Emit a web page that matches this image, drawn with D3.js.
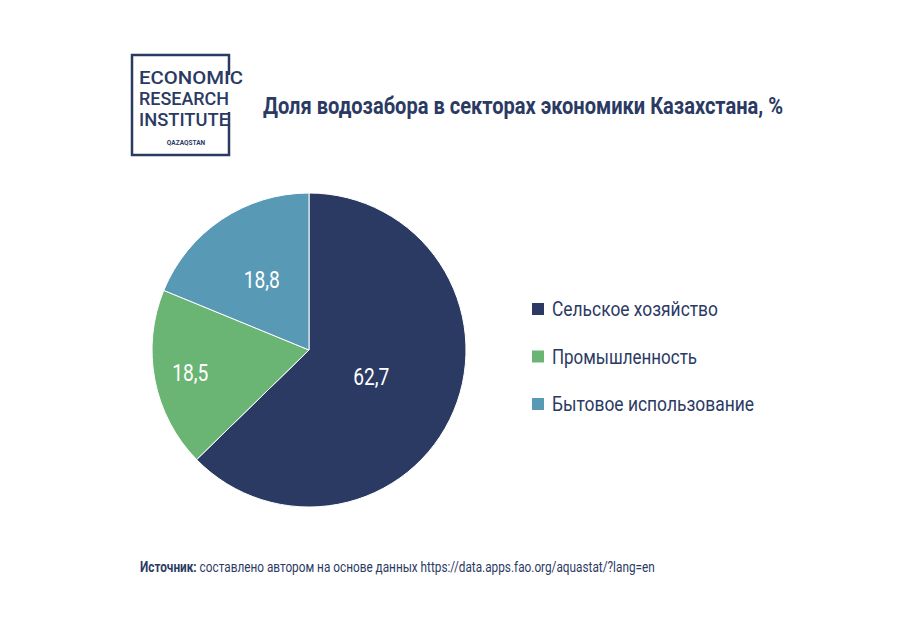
<!DOCTYPE html><html><head><meta charset="utf-8">
<script src="https://cdn.jsdelivr.net/npm/d3@7"></script>
<style>body{margin:0;background:#fff}text{font-family:"Roboto",sans-serif}</style></head><body>
<svg id="c" width="924" height="618"></svg>
<script>
const categories=["Сельское  хозяйство","Промышленность","Бытовое  использование"];
const values=[62.7,18.5,18.8];
const labels=["62,7","18,5","18,8"];
const colors=["#2b3a63","#6ab574","#5899b6"];
const labelR=[0.43,0.77,0.54];
const legendW=[166,145,202];
const svg=d3.select("#c");
const navy="#2b3a63";
const lg=svg.append("g");
lg.append("path").attr("d","M229,75 V55 H132 V155 H229 V112").attr("fill","none").attr("stroke",navy).attr("stroke-width",2.5);
["ECONOMIC","RESEARCH","INSTITUTE"].forEach((t,i)=>lg.append("text").attr("x",139).attr("y",84+i*21).text(t)
 .attr("font-size",19).attr("fill",navy).attr("font-weight",500).attr("textLength",[104,90,90][i]).attr("lengthAdjust","spacingAndGlyphs"));
lg.append("text").attr("x",186).attr("y",145).attr("text-anchor","middle").attr("font-size",6.5).attr("font-weight",700).attr("fill",navy).text("QAZAQSTAN");
svg.append("text").attr("x",263).attr("y",114).attr("font-size",24).attr("font-weight",700).attr("fill",navy)
 .attr("textLength",520).attr("lengthAdjust","spacingAndGlyphs").text("Доля водозабора в секторах экономики Казахстана, %");
const cx=309,cy=350,R=157;
const pie=d3.pie().sort(null)(values);
const arc=d3.arc().innerRadius(0).outerRadius(R);
const g=svg.append("g").attr("transform",`translate(${cx},${cy})`);
g.selectAll("path").data(pie).join("path").attr("d",arc).attr("fill",(d,i)=>colors[i]).attr("stroke","#fff").attr("stroke-width",1);
g.selectAll("text").data(pie).join("text").attr("transform",(d,i)=>{const a=(d.startAngle+d.endAngle)/2,r=R*labelR[i];return `translate(${r*Math.sin(a)},${-r*Math.cos(a)}) scale(0.8,1)`;})
 .attr("text-anchor","middle").attr("dy","0.35em").attr("fill","#fff").attr("font-size",24).text((d,i)=>labels[i]);
const y=d3.scalePoint().domain(categories).range([309,404]);
const lgd=svg.append("g");
categories.forEach((c,i)=>{lgd.append("rect").attr("x",532).attr("y",y(c)-6).attr("width",12).attr("height",12).attr("fill",colors[i]);
 lgd.append("text").attr("x",552).attr("y",y(c)).attr("dy","0.35em").attr("font-size",20).attr("fill",navy).attr("textLength",legendW[i]).attr("lengthAdjust","spacingAndGlyphs").text(c);});
const s=svg.append("g").attr("transform","translate(140,572) scale(0.786,1)").append("text").attr("font-size",15).attr("fill",navy);
s.append("tspan").attr("font-weight",700).text("Источник: ");
s.append("tspan").text("составлено автором на основе данных  https://data.apps.fao.org/aquastat/?lang=en");
</script></body></html>
